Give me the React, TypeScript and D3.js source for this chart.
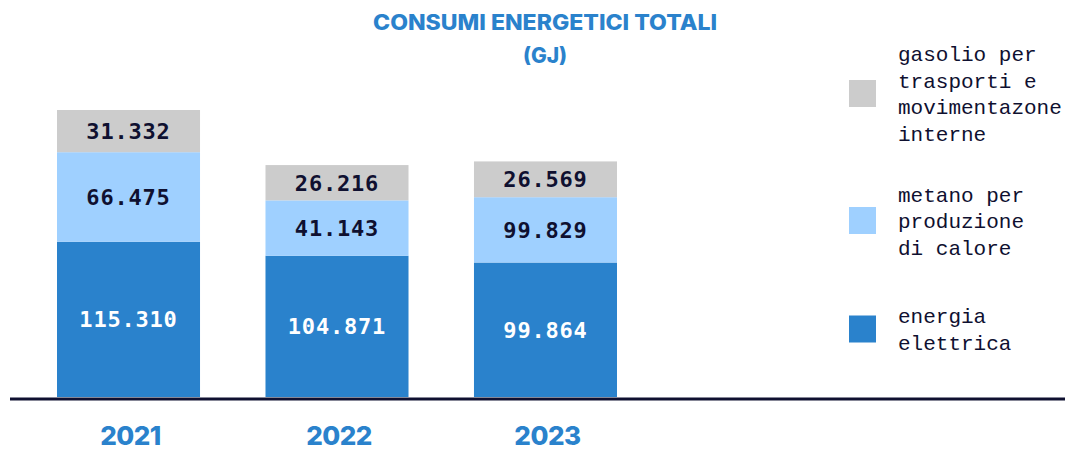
import React from "react";
import * as d3 from "d3";

const years = ["2021", "2022", "2023"];
// drawn segment values (GJ); the 2023 metano bar is drawn at ~48.500 in the reference although labelled 99.829
const elettrica = [115310, 104871, 99864];
const metano = [66475, 41143, 48500];
const gasolio = [31332, 26216, 26569];
const elettricaLabels = ["115.310", "104.871", "99.864"];
const metanoLabels = ["66.475", "41.143", "99.829"];
const gasolioLabels = ["31.332", "26.216", "26.569"];

const legendItems = [
  { lines: ["gasolio per", "trasporti e", "movimentazone", "interne"], color: "#cccccc" },
  { lines: ["metano per", "produzione", "di calore"], color: "#9fd0ff" },
  { lines: ["energia", "elettrica"], color: "#2a82cc" },
];

const W = 1065;
const H = 450;
const BLUE = "#2a82cc";
const NAVY = "#0f1030";
const HEAD = "Inter, Liberation Sans, Arial, sans-serif";

export default function App() {
  const x = d3.scaleBand().domain(years).range([57, 617]).paddingInner(0.314).paddingOuter(0);
  const maxTotal = d3.max(years.map((_, i) => elettrica[i] + metano[i] + gasolio[i])) as number;
  const y = d3.scaleLinear().domain([0, maxTotal]).range([397, 110]);

  const series = [
    { vals: elettrica, labels: elettricaLabels, color: "#2a82cc", text: "#ffffff" },
    { vals: metano, labels: metanoLabels, color: "#9fd0ff", text: NAVY },
    { vals: gasolio, labels: gasolioLabels, color: "#cccccc", text: NAVY },
  ];

  const legendCenters = [93.5, 220.5, 329];
  const lh = 26.5;

  return (
    <svg width={W} height={H} style={{ position: "absolute", left: 0, top: 0, background: "#fff" }}>
      <text x={545} y={30} textAnchor="middle" fill={BLUE} fontFamily={HEAD}
        fontWeight={800} fontSize={21} textLength={344} lengthAdjust="spacingAndGlyphs">
        CONSUMI ENERGETICI TOTALI
      </text>
      <text x={545} y={63} textAnchor="middle" fill={BLUE} fontFamily={HEAD}
        fontWeight={800} fontSize={21}>
        (GJ)
      </text>

      {years.map((yr, i) => {
        let base = 0;
        return (
          <g key={yr}>
            {series.map((s, k) => {
              const v0 = base;
              const v1 = base + s.vals[i];
              base = v1;
              const yTop = y(v1);
              const yBot = y(v0);
              return (
                <g key={k}>
                  <rect x={x(yr)} y={yTop} width={x.bandwidth()} height={yBot - yTop} fill={s.color} />
                  <text x={(x(yr) as number) + x.bandwidth() / 2} y={(yTop + yBot) / 2} dy="0.36em"
                    textAnchor="middle" fill={s.text} fontFamily="DejaVu Sans Mono, monospace"
                    fontWeight="bold" fontSize={22} letterSpacing={0.8}>
                    {s.labels[i]}
                  </text>
                </g>
              );
            })}
            <text x={(x(yr) as number) + x.bandwidth() / 2 + 2} y={445} textAnchor="middle" fill={BLUE}
              fontFamily={HEAD} fontWeight={800} fontSize={26} letterSpacing={-0.5}>
              {yr}
            </text>
          </g>
        );
      })}

      <line x1={10} x2={W} y1={399} y2={399} stroke={NAVY} strokeWidth={3} />

      {legendItems.map((it, i) => {
        const c = legendCenters[i];
        const first = c - ((it.lines.length - 1) * lh) / 2;
        return (
          <g key={i}>
            <rect x={849} y={c - 13.5} width={27} height={27} fill={it.color} />
            {it.lines.map((ln, j) => (
              <text key={j} x={898} y={first + j * lh} dy="0.36em" fill={NAVY}
                fontFamily="Liberation Mono, monospace" fontSize={21}>
                {ln}
              </text>
            ))}
          </g>
        );
      })}
    </svg>
  );
}
